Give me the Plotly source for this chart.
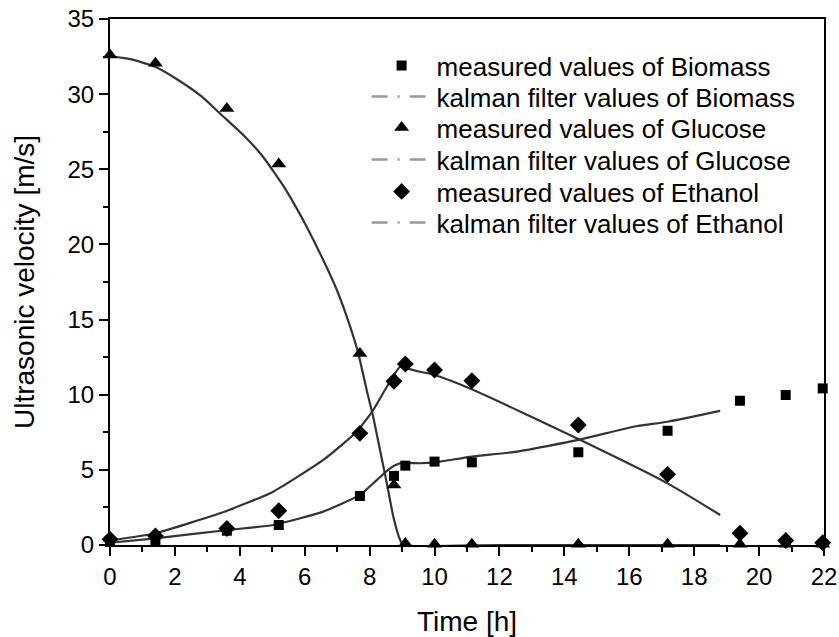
import plotly.graph_objects as go

# ---- data ----
t_meas = [0, 1.4, 3.6, 5.2, 7.7, 8.75, 9.1, 10.0, 11.15, 14.43, 17.18, 19.41, 20.82, 21.96]
biomass_meas = [0.2, 0.3, 0.95, 1.33, 3.26, 4.6, 5.28, 5.55, 5.5, 6.17, 7.6, 9.6, 9.98, 10.42]
glucose_meas = [32.6, 32.05, 29.05, 25.35, 12.75, 4.0, 0.1, 0.05, 0.05, 0.05, 0.05, 0.05, 0.05, 0.05]
ethanol_meas = [0.38, 0.6, 1.1, 2.28, 7.43, 10.9, 12.04, 11.64, 10.93, 7.98, 4.7, 0.78, 0.3, 0.15]

t_kb = [0, 1.4, 3.63, 5.03, 6.57, 7.7, 8.22, 8.63, 8.94, 9.55, 10.0, 11.15, 12.53, 14.43, 16.13, 17.18, 18.8]
biomass_kal = [0.15, 0.44, 1.0, 1.33, 2.22, 3.33, 4.32, 5.1, 5.44, 5.44, 5.5, 5.88, 6.21, 6.99, 7.87, 8.2, 8.92]

t_kg = [0, 0.67, 1.39, 2.1, 2.83, 3.44, 4.16, 4.67, 5.08, 5.39, 5.7, 6.06, 6.57, 6.99, 7.4, 7.65, 7.91, 8.11,
        8.32, 8.53, 8.73, 8.94, 9.04, 12.0, 18.8]
glucose_kal = [32.53, 32.31, 31.82, 30.94, 29.83, 28.61, 27.17, 25.95, 24.73, 23.73, 22.6, 21.18, 18.96, 16.97,
               14.53, 12.75, 10.3, 8.54, 6.32, 4.1, 1.88, 0.33, 0.0, 0.0, 0.0]

t_ke = [0, 1.4, 3.63, 5.03, 6.57, 7.6, 8.11, 8.53, 8.94, 9.14, 9.55, 10.0, 11.15, 14.43, 17.18, 18.8]
ethanol_kal = [0.3, 0.78, 2.3, 3.55, 5.66, 7.54, 8.98, 10.53, 11.86, 11.75, 11.53, 11.31, 10.36, 7.05, 4.1, 2.0]

x_ticks = [0, 2, 4, 6, 8, 10, 12, 14, 16, 18, 20, 22]
y_ticks = [0, 5, 10, 15, 20, 25, 30, 35]

legend_names = [
    "measured values of Biomass",
    "kalman filter values of Biomass",
    "measured values of Glucose",
    "kalman filter values of Glucose",
    "measured values of Ethanol",
    "kalman filter values of Ethanol",
]

FONT = "Liberation Sans, Arial, Helvetica, sans-serif"
LINE_COLOR = "#333333"
LEG_LINE = dict(color="#999999", width=2.5, dash="16px,10px,2px,10px")

fig = go.Figure()

# curves drawn in the plot (no legend)
for tx, ty in [(t_kb, biomass_kal), (t_kg, glucose_kal), (t_ke, ethanol_kal)]:
    fig.add_trace(go.Scatter(x=tx, y=ty, mode="lines", showlegend=False,
                             line=dict(color=LINE_COLOR, width=2.2, shape="spline", smoothing=0.5),
                             cliponaxis=False, hoverinfo="skip"))

legend_ids = ["legend", "legend2", "legend3", "legend4", "legend5", "legend6"]

def meas(i, y, symbol, size):
    fig.add_trace(go.Scatter(x=t_meas, y=y, mode="markers", name=legend_names[i],
                             legend=legend_ids[i],
                             marker=dict(symbol=symbol, size=size, color="black"),
                             cliponaxis=False))

def kal_legend(i):
    fig.add_trace(go.Scatter(x=[None], y=[None], mode="lines", name=legend_names[i],
                             legend=legend_ids[i], line=LEG_LINE))

meas(0, biomass_meas, "square", 10)
kal_legend(1)
meas(2, glucose_meas, "triangle-up", 13)
kal_legend(3)
meas(4, ethanol_meas, "diamond", 13)
kal_legend(5)

axis_common = dict(showline=True, linecolor="black", linewidth=2, mirror=True,
                   ticks="outside", ticklen=9, tickwidth=2, tickcolor="black",
                   showgrid=False, zeroline=False, automargin=False,
                   tickfont=dict(family=FONT, size=24, color="black"))

fig.update_xaxes(range=[0, 22], tickvals=x_ticks, ticktext=[str(v) for v in x_ticks],
                 minor=dict(dtick=1, tick0=0, ticks="outside", ticklen=5, tickwidth=2, tickcolor="black"),
                 title=dict(text="Time [h]", font=dict(family=FONT, size=28, color="black"), standoff=27),
                 **axis_common)
fig.update_yaxes(range=[0, 35], tickvals=y_ticks, ticktext=[str(v) for v in y_ticks],
                 minor=dict(dtick=2.5, tick0=0, ticks="outside", ticklen=5, tickwidth=2, tickcolor="black"),
                 title=dict(text="Ultrasonic velocity [m/s]", font=dict(family=FONT, size=28, color="black"), standoff=25),
                 **axis_common)

# legend rows (pixel centres), one legend box per row
row_centres = [67, 98, 129, 161, 193, 224]
plot_top, plot_h = 19, 526
legend_layout = {}
for lid, c in zip(legend_ids, row_centres):
    top_px = c - 25
    legend_layout[lid] = dict(x=0.3594, y=1 - (top_px - plot_top) / plot_h,
                              xanchor="left", yanchor="top",
                              bgcolor="rgba(0,0,0,0)", borderwidth=0,
                              font=dict(family=FONT, size=26, color="black"),
                              itemwidth=60)

fig.update_layout(
    width=839, height=637,
    margin=dict(l=110, r=15, t=19, b=92, autoexpand=False),
    paper_bgcolor="white", plot_bgcolor="white",
    font=dict(family=FONT, color="black"),
    **legend_layout,
)

fig.write_html("out.html")
